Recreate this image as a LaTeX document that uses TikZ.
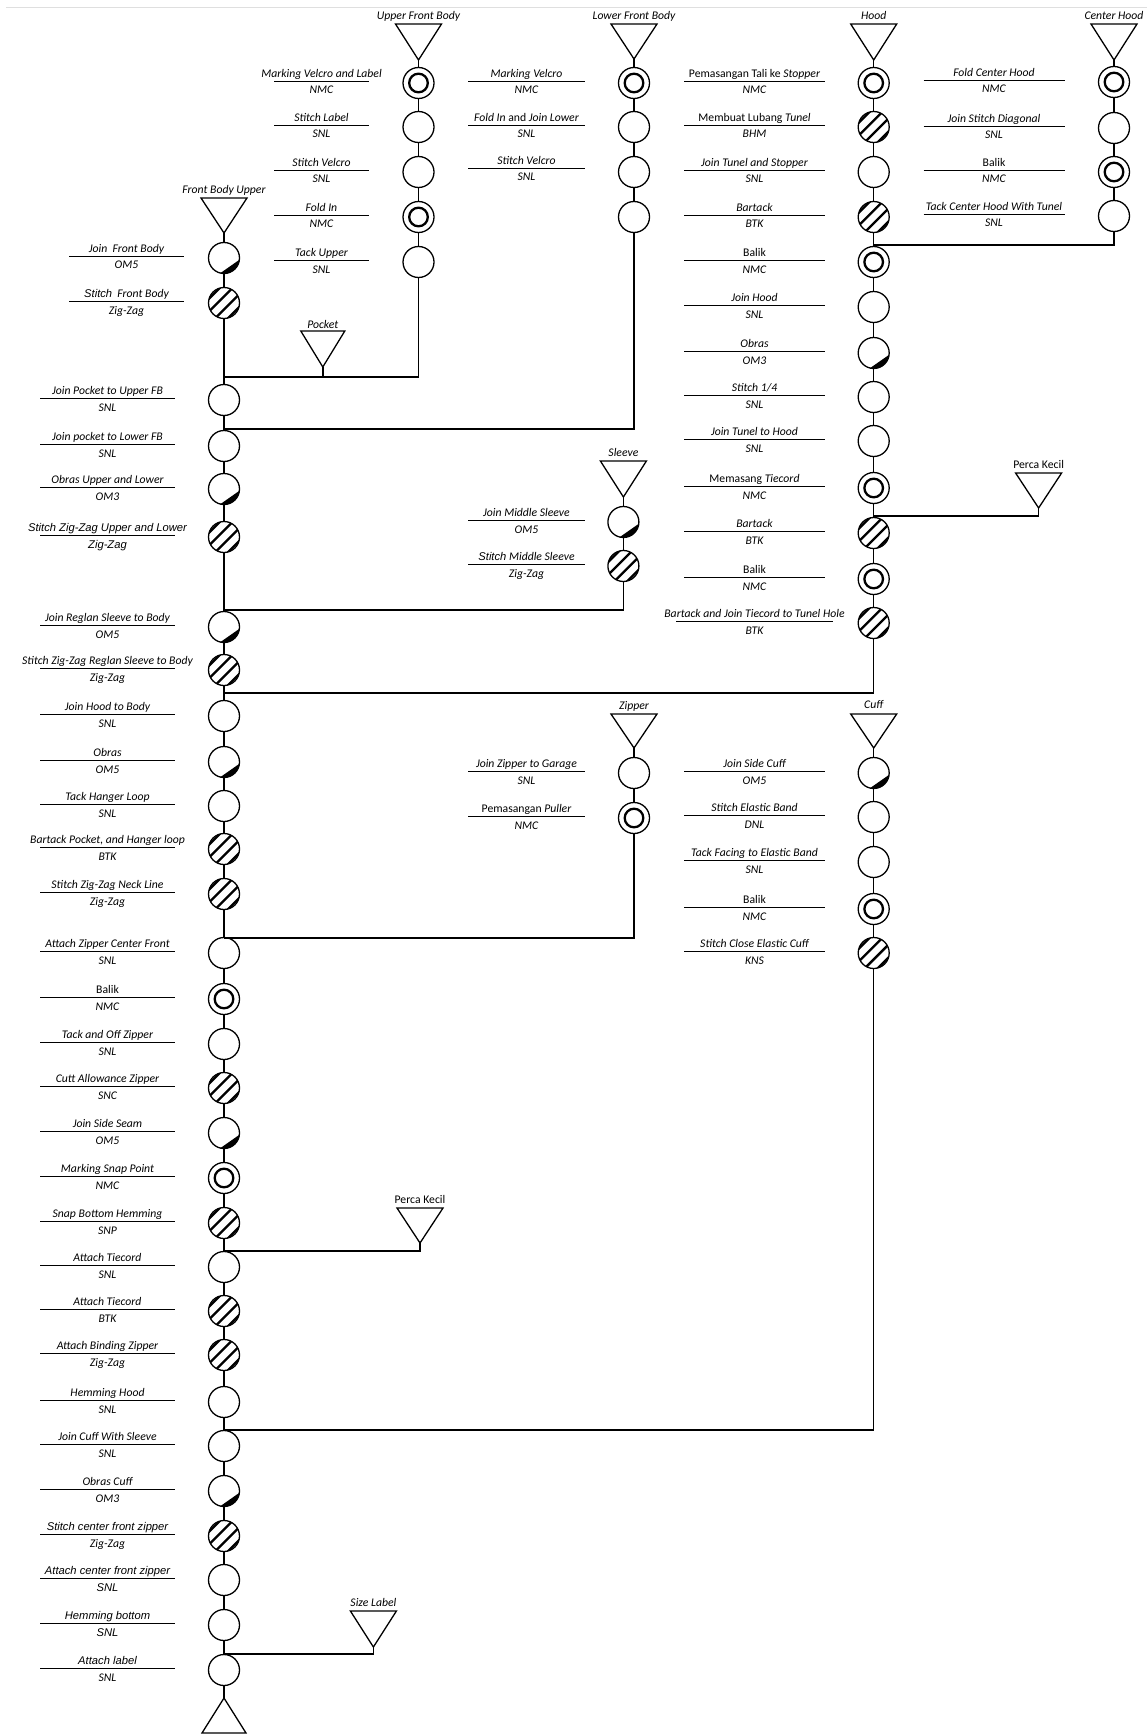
\documentclass[tikz,border=0pt]{standalone}
\usepackage{fontspec}
\setmainfont{Carlito}
\newfontfamily\arialfont{Liberation Sans}
\usepackage{tikz}
\usetikzlibrary{calc}
\newcommand{\ar}{\fontsize{11.2}{13}\arialfont}
\def\XMain{224}
\def\XUfb{418.5}
\def\XLfb{634}
\def\XHood{873.7}
\def\XCtr{1114}
\def\XSlv{623.4}
\def\LMain{107.5}
\def\LFront{126.5}
\def\LUfb{321.5}
\def\LMid{526.5}
\def\LHood{754.5}
\def\LCtr{994}
\tikzset{
  op/.style={circle, draw=black, line width=1.3pt, fill=white,
    minimum size=31pt, inner sep=0pt},
  plain/.style={op},
  nmc/.style={op, path picture={
      \draw[black, line width=2.3pt] (path picture bounding box.center) circle[radius=9.3pt];}},
  hatch/.style={op, path picture={
      \foreach \o in {-9.6,-3.2,3.2,9.6}
        \draw[black, line width=2.3pt] ([shift={({\o-20},{\o+20})}]path picture bounding box.center) -- ++(40,-40);}},
  obras/.style={op, path picture={
      \fill[black] ([shift={(5:16)}]path picture bounding box.center)
        arc[start angle=5, end angle=105, radius=16] -- cycle;}},
  tri/.style={draw=black, line width=1.3pt, line join=miter},
  flow/.style={draw=black, line width=1.5pt},
  uline/.style={draw=black, line width=1.6pt},
  opname/.style={anchor=base, inner sep=0pt, font=\fontsize{11.7}{13}\selectfont\itshape},
  opcode/.style={anchor=base, inner sep=0pt, font=\fontsize{11.7}{13}\selectfont\itshape},
  srclbl/.style={anchor=base, inner sep=0pt, font=\fontsize{11.7}{13}\selectfont\itshape},
}
% name, centre x, row y, line width, task, machine
\newcommand{\oplbl}[6]{%
  \node[opname] (#1) at (#2,{#3-5.5}) {#5};
  \draw[uline] ({#2-#4/2},{#3-1.5}) -- ({#2+#4/2},{#3-1.5});
  \node[opcode] (#1c) at (#2,{#3+11}) {#6};
}
\begin{document}
\begin{tikzpicture}[x=1pt,y=-1pt]
  \useasboundingbox (0,0) rectangle (1147,1736);
  \draw[gray!25, line width=1pt] (6,8) -- (1147,8);

  % main line
  \coordinate (fbuT) at (\XMain,233);
  \draw[tri] (fbuT) -- ++(-23,-35) -- ++(46,0) -- cycle;
  \node[srclbl] (fbuL) at (\XMain,193.5) {Front Body Upper};
  \node[obras] (m1) at (\XMain,258) {};
  \node[hatch] (m2) at (\XMain,303) {};
  \node[plain] (m3) at (\XMain,400) {};
  \node[plain] (m4) at (\XMain,446) {};
  \node[obras] (m5) at (\XMain,489) {};
  \node[hatch] (m6) at (\XMain,537) {};
  \node[obras] (m7) at (\XMain,627) {};
  \node[hatch] (m8) at (\XMain,670) {};
  \node[plain] (m9) at (\XMain,716) {};
  \node[obras] (m10) at (\XMain,762) {};
  \node[plain] (m11) at (\XMain,806) {};
  \node[hatch] (m12) at (\XMain,849) {};
  \node[hatch] (m13) at (\XMain,894) {};
  \node[plain] (m14) at (\XMain,953) {};
  \node[nmc] (m15) at (\XMain,999) {};
  \node[plain] (m16) at (\XMain,1044) {};
  \node[hatch] (m17) at (\XMain,1088) {};
  \node[obras] (m18) at (\XMain,1133) {};
  \node[nmc] (m19) at (\XMain,1178) {};
  \node[hatch] (m20) at (\XMain,1223) {};
  \node[plain] (m21) at (\XMain,1267) {};
  \node[hatch] (m22) at (\XMain,1311) {};
  \node[hatch] (m23) at (\XMain,1355) {};
  \node[plain] (m24) at (\XMain,1402) {};
  \node[plain] (m25) at (\XMain,1446) {};
  \node[obras] (m26) at (\XMain,1491) {};
  \node[hatch] (m27) at (\XMain,1536) {};
  \node[plain] (m28) at (\XMain,1580) {};
  \node[plain] (m29) at (\XMain,1625) {};
  \node[plain] (m30) at (\XMain,1670) {};
  \coordinate (endT) at (\XMain,1698);
  \draw[tri] (endT) -- ++(-22,35) -- ++(44,0) -- cycle;
  \draw[flow] (fbuT) -- (m1) -- (m2) -- (m3) -- (m4) -- (m5) -- (m6) -- (m7) -- (m8)
    -- (m9) -- (m10) -- (m11) -- (m12) -- (m13) -- (m14) -- (m15) -- (m16) -- (m17)
    -- (m18) -- (m19) -- (m20) -- (m21) -- (m22) -- (m23) -- (m24) -- (m25) -- (m26)
    -- (m27) -- (m28) -- (m29) -- (m30) -- (endT);

  \oplbl{m1l}{\LFront}{258}{115}{Join\ \ Front Body}{OM5}
  \oplbl{m2l}{\LFront}{303}{115}{{\ar Stitch}\ \ Front Body}{Zig-Zag}
  \oplbl{m3l}{\LMain}{400}{135}{Join Pocket to Upper FB}{SNL}
  \oplbl{m4l}{\LMain}{446}{135}{Join pocket to Lower FB}{SNL}
  \oplbl{m5l}{\LMain}{489}{135}{Obras Upper and Lower}{OM3}
  \oplbl{m6l}{\LMain}{537}{135}{\ar Stitch Zig-Zag Upper and Lower}{\ar Zig-Zag}
  \oplbl{m7l}{\LMain}{627}{135}{Join Reglan Sleeve to Body}{OM5}
  \oplbl{m8l}{\LMain}{670}{135}{Stitch Zig-Zag Reglan Sleeve to Body}{Zig-Zag}
  \oplbl{m9l}{\LMain}{716}{135}{Join Hood to Body}{SNL}
  \oplbl{m10l}{\LMain}{762}{135}{Obras}{OM5}
  \oplbl{m11l}{\LMain}{806}{135}{Tack Hanger Loop}{SNL}
  \oplbl{m12l}{\LMain}{849}{135}{Bartack Pocket, and Hanger loop}{BTK}
  \oplbl{m13l}{\LMain}{894}{135}{Stitch Zig-Zag Neck Line}{Zig-Zag}
  \oplbl{m14l}{\LMain}{953}{135}{Attach Zipper Center Front}{SNL}
  \oplbl{m15l}{\LMain}{999}{135}{\upshape Balik}{NMC}
  \oplbl{m16l}{\LMain}{1044}{135}{Tack and Off Zipper}{SNL}
  \oplbl{m17l}{\LMain}{1088}{135}{Cutt Allowance Zipper}{SNC}
  \oplbl{m18l}{\LMain}{1133}{135}{Join Side Seam}{OM5}
  \oplbl{m19l}{\LMain}{1178}{135}{Marking Snap Point}{NMC}
  \oplbl{m20l}{\LMain}{1223}{135}{Snap Bottom Hemming}{SNP}
  \oplbl{m21l}{\LMain}{1267}{135}{Attach Tiecord}{SNL}
  \oplbl{m22l}{\LMain}{1311}{135}{Attach Tiecord}{BTK}
  \oplbl{m23l}{\LMain}{1355}{135}{Attach Binding Zipper}{Zig-Zag}
  \oplbl{m24l}{\LMain}{1402}{135}{Hemming Hood}{SNL}
  \oplbl{m25l}{\LMain}{1446}{135}{Join Cuff With Sleeve}{SNL}
  \oplbl{m26l}{\LMain}{1491}{135}{Obras Cuff}{OM3}
  \oplbl{m27l}{\LMain}{1536}{135}{\ar Stitch center front zipper}{Zig-Zag}
  \oplbl{m28l}{\LMain}{1580}{135}{\ar Attach center front zipper}{\ar SNL}
  \oplbl{m29l}{\LMain}{1625}{135}{\ar Hemming bottom}{\ar SNL}
  \oplbl{m30l}{\LMain}{1670}{135}{\ar Attach label}{SNL}

  % upper front body
  \coordinate (ufbT) at (\XUfb,60);
  \draw[tri] (ufbT) -- ++(-23,-36) -- ++(46,0) -- cycle;
  \node[srclbl] (ufbL) at (\XUfb,19.5) {Upper Front Body};
  \node[nmc] (u1) at (\XUfb,83) {};
  \node[plain] (u2) at (\XUfb,127) {};
  \node[plain] (u3) at (\XUfb,172) {};
  \node[nmc] (u4) at (\XUfb,217) {};
  \node[plain] (u5) at (\XUfb,262) {};
  \coordinate (jPocket) at (\XMain,377);
  \draw[flow] (ufbT) -- (u1) -- (u2) -- (u3) -- (u4) -- (u5) |- (jPocket);
  \oplbl{u1l}{\LUfb}{83}{95}{Marking Velcro and Label}{NMC}
  \oplbl{u2l}{\LUfb}{127}{95}{Stitch Label}{SNL}
  \oplbl{u3l}{\LUfb}{172}{95}{Stitch Velcro}{SNL}
  \oplbl{u4l}{\LUfb}{217}{95}{Fold In}{NMC}
  \oplbl{u5l}{\LUfb}{262}{95}{Tack Upper}{SNL}

  % pocket
  \coordinate (pocketT) at (322.8,367);
  \draw[tri] (pocketT) -- ++(-22,-36) -- ++(44,0) -- cycle;
  \node[srclbl] (pocketL) at (322.8,328.5) {Pocket};
  \draw[flow] (pocketT) -- (pocketT |- jPocket);

  % lower front body
  \coordinate (lfbT) at (\XLfb,59);
  \draw[tri] (lfbT) -- ++(-23,-35) -- ++(46,0) -- cycle;
  \node[srclbl] (lfbL) at (\XLfb,19.5) {Lower Front Body};
  \node[nmc] (l1) at (\XLfb,83) {};
  \node[plain] (l2) at (\XLfb,127) {};
  \node[plain] (l3) at (\XLfb,172) {};
  \node[plain] (l4) at (\XLfb,217) {};
  \coordinate (jLfb) at (\XMain,429);
  \draw[flow] (lfbT) -- (l1) -- (l2) -- (l3) -- (l4) |- (jLfb);
  \oplbl{l1l}{\LMid}{83}{117}{Marking Velcro}{NMC}
  \oplbl{l2l}{\LMid}{127}{117}{Fold In\ {\upshape and}\ Join Lower}{SNL}
  \oplbl{l3l}{\LMid}{170}{117}{Stitch Velcro}{SNL}

  % hood
  \coordinate (hoodT) at (\XHood,60);
  \draw[tri] (hoodT) -- ++(-23,-36) -- ++(46,0) -- cycle;
  \node[srclbl] (hoodL) at (\XHood,19.5) {Hood};
  \node[nmc] (h1) at (\XHood,83) {};
  \node[hatch] (h2) at (\XHood,127) {};
  \node[plain] (h3) at (\XHood,172) {};
  \node[hatch] (h4) at (\XHood,217) {};
  \node[nmc] (h5) at (\XHood,262) {};
  \node[plain] (h6) at (\XHood,307) {};
  \node[obras] (h7) at (\XHood,353) {};
  \node[plain] (h8) at (\XHood,397) {};
  \node[plain] (h9) at (\XHood,441) {};
  \node[nmc] (h10) at (\XHood,488) {};
  \node[hatch] (h11) at (\XHood,533) {};
  \node[nmc] (h12) at (\XHood,579) {};
  \node[hatch] (h13) at (\XHood,623) {};
  \coordinate (jHood) at (\XMain,693);
  \draw[flow] (hoodT) -- (h1) -- (h2) -- (h3) -- (h4) -- (h5) -- (h6) -- (h7) -- (h8)
    -- (h9) -- (h10) -- (h11) -- (h12) -- (h13) |- (jHood);
  \oplbl{h1l}{\LHood}{83}{141}{{\upshape Pemasangan Tali ke} Stopper}{NMC}
  \oplbl{h2l}{\LHood}{127}{141}{{\upshape Membuat Lubang} Tunel}{BHM}
  \oplbl{h3l}{\LHood}{172}{141}{Join Tunel and Stopper}{SNL}
  \oplbl{h4l}{\LHood}{217}{141}{Bartack}{BTK}
  \oplbl{h5l}{\LHood}{262}{141}{\upshape Balik}{NMC}
  \oplbl{h6l}{\LHood}{307}{141}{Join Hood}{SNL}
  \oplbl{h7l}{\LHood}{353}{141}{Obras}{OM3}
  \oplbl{h8l}{\LHood}{397}{141}{Stitch 1/4}{SNL}
  \oplbl{h9l}{\LHood}{441}{141}{Join Tunel to Hood}{SNL}
  \oplbl{h10l}{\LHood}{488}{141}{{\upshape Memasang} Tiecord}{NMC}
  \oplbl{h11l}{\LHood}{533}{141}{Bartack}{BTK}
  \oplbl{h12l}{\LHood}{579}{141}{\upshape Balik}{NMC}
  \oplbl{h13l}{\LHood}{623}{157}{Bartack and Join Tiecord to Tunel Hole}{BTK}

  % center hood
  \coordinate (ctrT) at (\XCtr,60);
  \draw[tri] (ctrT) -- ++(-23,-36) -- ++(46,0) -- cycle;
  \node[srclbl] (ctrL) at (\XCtr,19.5) {Center Hood};
  \node[nmc] (c1) at (\XCtr,82) {};
  \node[plain] (c2) at (\XCtr,128) {};
  \node[nmc] (c3) at (\XCtr,172) {};
  \node[plain] (c4) at (\XCtr,216) {};
  \coordinate (jCtr) at (\XHood,245);
  \draw[flow] (ctrT) -- (c1) -- (c2) -- (c3) -- (c4) |- (jCtr);
  \oplbl{c1l}{\LCtr}{82}{141}{Fold Center Hood}{NMC}
  \oplbl{c2l}{\LCtr}{128}{141}{Join Stitch Diagonal}{SNL}
  \oplbl{c3l}{\LCtr}{172}{141}{\upshape Balik}{NMC}
  \oplbl{c4l}{\LCtr}{216}{141}{Tack Center Hood With Tunel}{SNL}

  % perca kecil (hood)
  \coordinate (perca1T) at (1038.6,508);
  \draw[tri] (perca1T) -- ++(-23,-35) -- ++(46,0) -- cycle;
  \node[srclbl, font=\fontsize{11.7}{13}\selectfont] (perca1L) at (1038.6,468.5) {Perca Kecil};
  \coordinate (jPerca1) at (\XHood,516);
  \draw[flow] (perca1T) |- (jPerca1);

  % sleeve
  \coordinate (slvT) at (\XSlv,497);
  \draw[tri] (slvT) -- ++(-23,-36) -- ++(46,0) -- cycle;
  \node[srclbl] (slvL) at (\XSlv,456.5) {Sleeve};
  \node[obras] (s1) at (\XSlv,522) {};
  \node[hatch] (s2) at (\XSlv,566) {};
  \coordinate (jSleeve) at (\XMain,610);
  \draw[flow] (slvT) -- (s1) -- (s2) |- (jSleeve);
  \oplbl{s1l}{\LMid}{522}{117}{Join Middle Sleeve}{OM5}
  \oplbl{s2l}{\LMid}{566}{117}{{\ar Stitch} Middle Sleeve}{Zig-Zag}

  % zipper
  \coordinate (zipT) at (\XLfb,748);
  \draw[tri] (zipT) -- ++(-23,-34) -- ++(46,0) -- cycle;
  \node[srclbl] (zipL) at (\XLfb,709.5) {Zipper};
  \node[plain] (z1) at (\XLfb,773) {};
  \node[nmc] (z2) at (\XLfb,818) {};
  \coordinate (jZip) at (\XMain,938);
  \draw[flow] (zipT) -- (z1) -- (z2) |- (jZip);
  \oplbl{z1l}{\LMid}{773}{117}{Join Zipper to Garage}{SNL}
  \oplbl{z2l}{\LMid}{818}{117}{{\upshape Pemasangan} Puller}{NMC}

  % cuff
  \coordinate (cuffT) at (\XHood,748);
  \draw[tri] (cuffT) -- ++(-23,-34) -- ++(46,0) -- cycle;
  \node[srclbl] (cuffL) at (\XHood,708.5) {Cuff};
  \node[obras] (f1) at (\XHood,773) {};
  \node[plain] (f2) at (\XHood,817) {};
  \node[plain] (f3) at (\XHood,862) {};
  \node[nmc] (f4) at (\XHood,909) {};
  \node[hatch] (f5) at (\XHood,953) {};
  \coordinate (jCuff) at (\XMain,1430);
  \draw[flow] (cuffT) -- (f1) -- (f2) -- (f3) -- (f4) -- (f5) |- (jCuff);
  \oplbl{f1l}{\LHood}{773}{141}{Join Side Cuff}{OM5}
  \oplbl{f2l}{\LHood}{817}{141}{Stitch Elastic Band}{DNL}
  \oplbl{f3l}{\LHood}{862}{141}{Tack Facing to Elastic Band}{SNL}
  \oplbl{f4l}{\LHood}{909}{141}{\upshape Balik}{NMC}
  \oplbl{f5l}{\LHood}{953}{141}{Stitch Close Elastic Cuff}{KNS}

  % perca kecil (body)
  \coordinate (perca2T) at (420,1243);
  \draw[tri] (perca2T) -- ++(-23,-35) -- ++(46,0) -- cycle;
  \node[srclbl, font=\fontsize{11.7}{13}\selectfont] (perca2L) at (420,1203.5) {Perca Kecil};
  \coordinate (jPerca2) at (\XMain,1251);
  \draw[flow] (perca2T) |- (jPerca2);

  % size label
  \coordinate (sizeT) at (373.4,1647);
  \draw[tri] (sizeT) -- ++(-23,-36) -- ++(46,0) -- cycle;
  \node[srclbl] (sizeL) at (373.4,1606.5) {Size Label};
  \coordinate (jSize) at (\XMain,1654);
  \draw[flow] (sizeT) |- (jSize);
\end{tikzpicture}
\end{document}
